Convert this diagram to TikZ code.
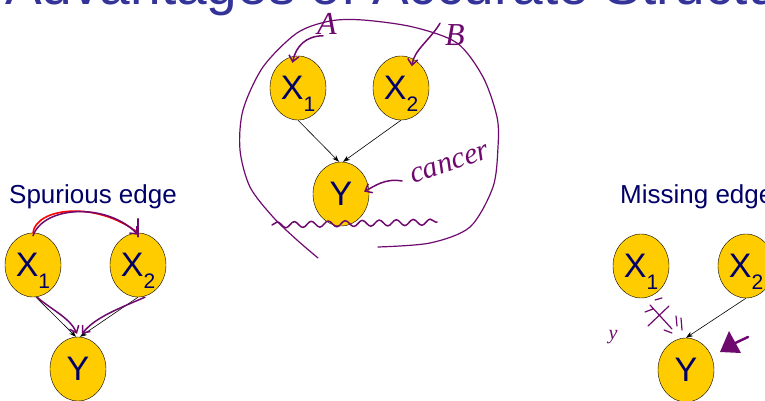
\documentclass[tikz,border=0pt]{standalone}
\usepackage{fontspec}
\setmainfont{Liberation Sans}
\newfontfamily\hand{Liberation Serif}
\usetikzlibrary{shapes.geometric,arrows.meta,decorations.pathmorphing}
\definecolor{gold}{RGB}{255,204,0}
\definecolor{navy}{RGB}{0,0,102}
\definecolor{slideblue}{RGB}{51,51,153}
\definecolor{ink}{RGB}{110,10,110}
\newcommand{\varX}[1]{X\raisebox{-12pt}[0pt][0pt]{\fontsize{21}{21}\selectfont #1}}

\begin{document}
\begin{tikzpicture}[x=1pt, y=-1pt,
    var/.style={draw, ellipse, fill=gold, minimum width=56pt, minimum height=64pt,
                inner sep=0pt, text=navy, font=\fontsize{34}{34}\selectfont},
    link/.style={-{Stealth[length=7pt,width=5pt]}, line width=0.6pt},
    caption/.style={anchor=base west, inner sep=0pt, text=navy, font=\fontsize{26}{26}\selectfont},
    pen/.style={draw=ink, line width=1.5pt, line cap=round, line join=round},
    penarrow/.style={pen, -{Straight Barb[length=6pt,width=10pt]}},
    note/.style={text=ink, inner sep=1pt, font=\hand\itshape\fontsize{32}{32}\selectfont}]

\useasboundingbox (0,0) rectangle (765,401);
\clip (0,0) rectangle (765,401);

% === Slide title (cut at the top) ===
\node[anchor=base west, inner sep=0pt, text=slideblue, font=\fontsize{55}{55}\selectfont]
    (title) at (5,5) {Advantages of Accurate Structure};

% === Accurate structure ===
\node[var] (cX1) at (298,88)  {\varX{1}};
\node[var] (cX2) at (401,88)  {\varX{2}};
\node[var] (cY)  at (341,194) {Y};
\draw[link] (cX1.south) -- ([xshift=-2pt]cY.north);
\draw[link] (cX2.south) -- ([xshift=2pt]cY.north);

% === Spurious edge ===
\node[caption] (spurious) at (9,203) {Spurious edge};
\node[var] (sX1) at (33,265)  {\varX{1}};
\node[var] (sX2) at (138,265) {\varX{2}};
\node[var] (sY)  at (78,369)  {Y};
\draw[link] ([xshift=3pt]sX1.south) -- ([xshift=-2pt]sY.north);
\draw[link] (sX2.south) -- ([xshift=2pt]sY.north);

% === Missing edge ===
\node[caption] (missing) at (620,203) {Missing edge};
\node[var] (mX1) at (641,266) {\varX{1}};
\node[var] (mX2) at (746,266) {\varX{2}};
\node[var] (mY)  at (686,370) {Y};
\draw[link] (mX2.south) -- (mY.north);

% === Ink notes: middle ===
\draw[pen, line width=1.2pt] plot[smooth] coordinates {(378,247) (430,243) (470,227)
    (493,187) (498,147) (497,117) (483,77) (457,43) (413,27) (363,20) (330,21)
    (297,33) (263,67) (243,110) (240,150) (250,187) (273,217) (297,240) (318,258)};
\draw[pen, decorate, decoration={snake, segment length=17pt, amplitude=3pt}]
    (272,225) -- (437,222);
\node[note] (noteA) at (327,24) {A};
\node[note] (noteB) at (455,35) {B};
\node[note, rotate=18, font=\hand\itshape\fontsize{30}{30}\selectfont] (noteC) at (450,164) {cancer};
\draw[penarrow] ([xshift=-4pt]noteA.south) .. controls (306,36) and (296,46) .. ([yshift=-7pt]cX2.north -| cX1.100);
\draw[penarrow] ([xshift=-4pt]noteB.north west) .. controls (430,40) and (414,50) .. ([yshift=-8pt]cX2.70);
\draw[penarrow] ([xshift=-8pt,yshift=-4pt]noteC.west) .. controls (385,178) and (375,186) .. ([xshift=-5pt]cY.5);

% === Ink notes: spurious edge ===
\draw[red, line width=1.6pt, line cap=round] (sX1.north) .. controls (36,208) and (95,200) .. (sX2.north);
\draw[penarrow] ([yshift=-3pt]sX1.north) .. controls (44,205) and (108,203) .. ([yshift=-2pt]sX2.north);
\draw[pen] ([yshift=14pt]sX2.north) -- ([yshift=-4pt]sX2.north);
\draw[penarrow] ([xshift=4pt]sX1.south) .. controls (52,310) and (70,318) .. ([xshift=-1pt,yshift=3pt]sY.north);
\draw[penarrow] ([xshift=7pt]sX2.south) .. controls (115,310) and (95,318) .. ([xshift=4pt,yshift=3pt]sY.north);

% === Ink notes: missing edge ===
\draw[pen, line width=1.2pt] (650,305) -- (672,329) (669,306) -- (648,326)
    (655,300) -- (662,298) (645,312) -- (653,309) (676,316) -- (677,326)
    (681,318) -- (682,330) (664,330) -- (672,333);
\node[note, font=\hand\itshape\fontsize{20}{20}\selectfont] (noteY) at (613,337) {y};
\fill[ink] (720,352) -- (729,331) -- (741,353) -- cycle;
\draw[pen, line width=2.5pt] (731,345) -- (748,337);

\end{tikzpicture}
\end{document}
